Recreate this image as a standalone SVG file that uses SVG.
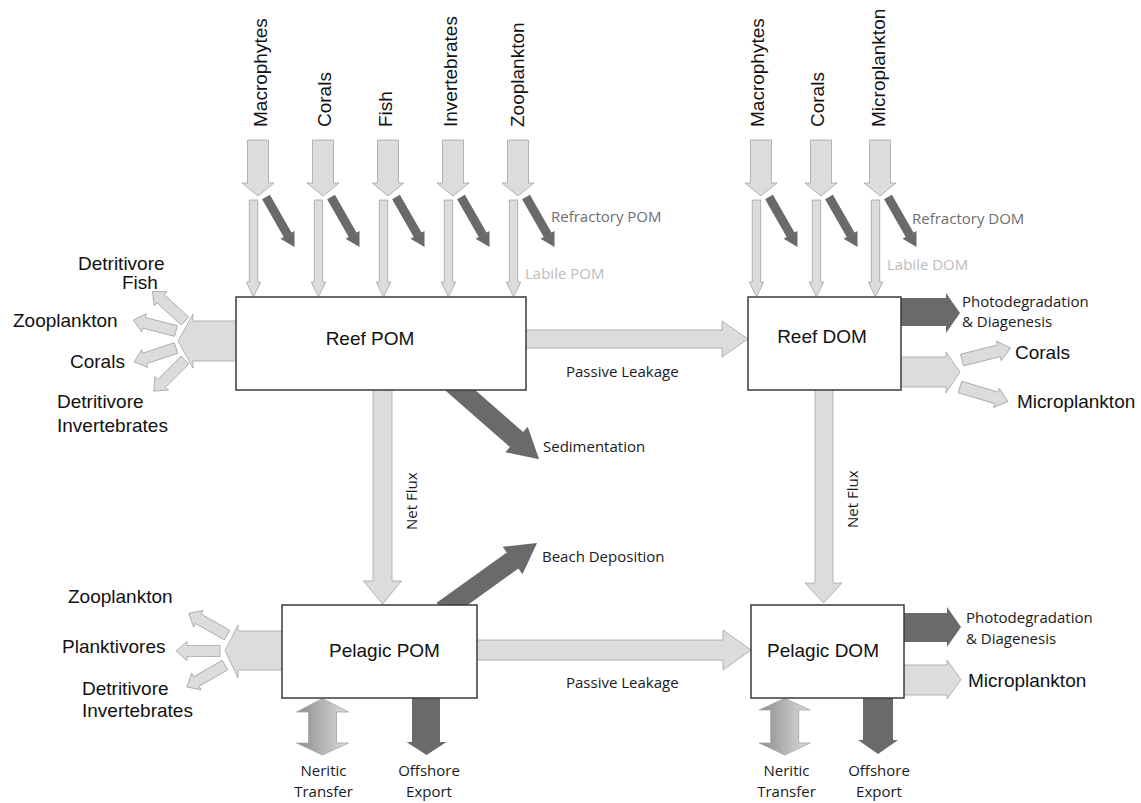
<svg xmlns="http://www.w3.org/2000/svg" xmlns:xlink="http://www.w3.org/1999/xlink" width="1141" height="803" viewBox="0 0 1141 803">
<style>
.lt{fill:#dcdcdc;stroke:#a3a3a3;stroke-width:0.8}
.dk{fill:#6a6a6a}
.box{fill:#fff;stroke:#3a3a3a;stroke-width:1.5}
.t{font-family:"Liberation Sans",Arial,sans-serif;font-size:19px;fill:#111}
.s{font-family:"Open Sans","Noto Sans",sans-serif;font-size:15px;fill:#1a1a1a}
.rf{font-family:"Open Sans","Noto Sans",sans-serif;font-size:15px;fill:#6e6e6e}
.lb{font-family:"Open Sans","Noto Sans",sans-serif;font-size:15px;fill:#bcbcbc}
.c{text-anchor:middle}
</style>
<defs>
<linearGradient id="grad" x1="0" y1="0" x2="1" y2="0">
<stop offset="0" stop-color="#8a8a8a"/>
<stop offset="1" stop-color="#dedede"/>
</linearGradient>
<g id="srcset">
<path class="lt" d="M-10.5,140 H10.5 V183 H16 L0,196 L-16,183 H-10.5 Z"/>
<path class="lt" d="M-8.7,200 H-0.3 V282 H2.7 L-4.5,297 L-11.7,282 H-8.7 Z"/>
<path class="dk" d="M4.1,199.2 L11.9,194.8 L33.5,232.6 L36.5,230.9 L36.5,247 L22.6,238.8 L25.7,237.1 Z"/>
</g>
<path id="sm44" class="lt" d="M0,-5.5 H33 V-9.5 L44,0 L33,9.5 V5.5 H0 Z"/>
<path id="sm50" class="lt" d="M0,-6 H38 V-10 L50,0 L38,10 V6 H0 Z"/>
</defs>

<g id="connectors">
<!-- sources into Reef POM -->
<use xlink:href="#srcset" x="258"/>
<use xlink:href="#srcset" x="323"/>
<use xlink:href="#srcset" x="388"/>
<use xlink:href="#srcset" x="453"/>
<use xlink:href="#srcset" x="518"/>
<!-- sources into Reef DOM -->
<use xlink:href="#srcset" x="761"/>
<use xlink:href="#srcset" x="821"/>
<use xlink:href="#srcset" x="880"/>

<!-- Reef POM left outputs -->
<path class="lt" d="M240,321 H193 V314 L178,341 L193,368 V361 H240 Z"/>
<use xlink:href="#sm44" transform="translate(185,321) rotate(-137.7)"/>
<use xlink:href="#sm44" transform="translate(176,331) rotate(194.3)"/>
<use xlink:href="#sm44" transform="translate(176,348) rotate(161.6)"/>
<use xlink:href="#sm44" transform="translate(185,360) rotate(135)"/>

<!-- Passive leakage top -->
<path class="lt" d="M522,330 H722 V321 L748,339 L722,357 V348 H522 Z"/>
<!-- Sedimentation -->
<path class="dk" d="M445.9,390.9 L459.1,375.9 L523.1,432 L527.7,426.7 L539.1,459.3 L505.3,452.3 L509.9,447 Z"/>
<!-- Net flux left -->
<path class="lt" d="M373,385 H392 V581 H401.5 L382.5,604 L363.5,581 H373 Z"/>
<!-- Net flux right -->
<path class="lt" d="M815,385 H833 V583 H842 L823.5,603 L805,583 H815 Z"/>

<!-- Reef DOM right outputs -->
<path class="dk" d="M898,298 H946 V293 L960,313 L946,333 V326 H898 Z"/>
<path class="lt" d="M898,357 H946 V352 L960,372 L946,393 V387 H898 Z"/>
<use xlink:href="#sm50" transform="translate(962,360) rotate(-14)"/>
<use xlink:href="#sm50" transform="translate(960,387) rotate(16.7)"/>

<!-- Beach deposition -->
<path class="dk" d="M436.6,602.7 L448.2,618.9 L518.4,568.6 L522.5,574.3 L537,543 L502.7,546.7 L506.8,552.4 Z"/>

<!-- Pelagic POM left outputs -->
<path class="lt" d="M286,631 H238 V625 L225,650.5 L238,678 V670 H286 Z"/>
<use xlink:href="#sm44" transform="translate(227,635) rotate(209.4)"/>
<use xlink:href="#sm44" transform="translate(220,651) rotate(180)"/>
<use xlink:href="#sm44" transform="translate(225,665) rotate(150)"/>

<!-- Passive leakage bottom -->
<path class="lt" d="M472,640 H723 V630 L751,650 L723,670 V660 H472 Z"/>

<!-- Pelagic POM bottom -->
<path fill="url(#grad)" stroke="#a3a3a3" stroke-width="0.8" d="M322.5,698.5 L348.5,712 H336.5 V743 H348.5 L322.5,755 L296.5,743 H308.5 V712 H296.5 Z"/>
<path class="dk" d="M412,695 H440 V742 H446.5 L426.5,755 L406.5,742 H412 Z"/>

<!-- Pelagic DOM right outputs -->
<path class="dk" d="M900,613 H947 V607 L961,627 L947,647 V642 H900 Z"/>
<path class="lt" d="M900,665 H947 V660 L961,679.5 L947,699 V695 H900 Z"/>

<!-- Pelagic DOM bottom -->
<path fill="url(#grad)" stroke="#a3a3a3" stroke-width="0.8" d="M784.7,698.3 L810.2,710 H798.7 V743 H810.2 L784.7,755 L759.2,743 H770.7 V710 H759.2 Z"/>
<path class="dk" d="M863,695 H893 V740 H898 L878,754 L858,740 H863 Z"/>
</g>

<g id="reef-pom">
<rect class="box" x="236" y="297" width="290" height="93"/>
<text class="t c" x="370" y="345">Reef POM</text>
</g>
<g id="reef-dom">
<rect class="box" x="748" y="297" width="153" height="93"/>
<text class="t c" x="822" y="343">Reef DOM</text>
</g>
<g id="pelagic-pom">
<rect class="box" x="282" y="605" width="195" height="93"/>
<text class="t c" x="384.5" y="657">Pelagic POM</text>
</g>
<g id="pelagic-dom">
<rect class="box" x="751" y="605" width="153" height="93"/>
<text class="t c" x="823" y="657">Pelagic DOM</text>
</g>

<g id="pom-sources">
<text class="t" transform="translate(267,127) rotate(-90)">Macrophytes</text>
<text class="t" transform="translate(331,127) rotate(-90)">Corals</text>
<text class="t" transform="translate(392,127) rotate(-90)">Fish</text>
<text class="t" transform="translate(457,127) rotate(-90)">Invertebrates</text>
<text class="t" transform="translate(524,127) rotate(-90)">Zooplankton</text>
<text class="rf" x="551" y="222">Refractory POM</text>
<text class="lb" x="525" y="279">Labile POM</text>
</g>
<g id="dom-sources">
<text class="t" transform="translate(764,127) rotate(-90)">Macrophytes</text>
<text class="t" transform="translate(824,127) rotate(-90)">Corals</text>
<text class="t" transform="translate(885,127) rotate(-90)">Microplankton</text>
<text class="rf" x="912" y="224">Refractory DOM</text>
<text class="lb" x="887" y="270">Labile DOM</text>
</g>

<g id="reef-pom-consumers">
<text class="t" x="78" y="270">Detritivore</text>
<text class="t" x="122" y="289">Fish</text>
<text class="t" x="13" y="327">Zooplankton</text>
<text class="t" x="70" y="368">Corals</text>
<text class="t" x="57" y="408">Detritivore</text>
<text class="t" x="57" y="432">Invertebrates</text>
</g>

<g id="flux-labels">
<text class="s" x="566" y="377">Passive Leakage</text>
<text class="s" x="543" y="452">Sedimentation</text>
<text class="s" transform="translate(417,530) rotate(-90)">Net Flux</text>
<text class="s" transform="translate(858,528) rotate(-90)">Net Flux</text>
<text class="s" x="542" y="562">Beach Deposition</text>
<text class="s" x="566" y="688">Passive Leakage</text>
</g>

<g id="reef-dom-sinks">
<text class="s" x="962" y="307">Photodegradation</text>
<text class="s" x="962" y="327">&amp; Diagenesis</text>
<text class="t" x="1015" y="359">Corals</text>
<text class="t" x="1017" y="408">Microplankton</text>
</g>

<g id="pelagic-pom-consumers">
<text class="t" x="68" y="603">Zooplankton</text>
<text class="t" x="62" y="653">Planktivores</text>
<text class="t" x="82" y="695">Detritivore</text>
<text class="t" x="82" y="717">Invertebrates</text>
</g>

<g id="pelagic-pom-exchange">
<text class="s c" x="323.5" y="776">Neritic</text>
<text class="s c" x="323.5" y="797">Transfer</text>
<text class="s c" x="429" y="776">Offshore</text>
<text class="s c" x="429" y="797">Export</text>
</g>

<g id="pelagic-dom-sinks">
<text class="s" x="966" y="623">Photodegradation</text>
<text class="s" x="966" y="644">&amp; Diagenesis</text>
<text class="t" x="968" y="687">Microplankton</text>
<text class="s c" x="786.5" y="776">Neritic</text>
<text class="s c" x="786.5" y="797">Transfer</text>
<text class="s c" x="879" y="776">Offshore</text>
<text class="s c" x="879" y="797">Export</text>
</g>
</svg>
